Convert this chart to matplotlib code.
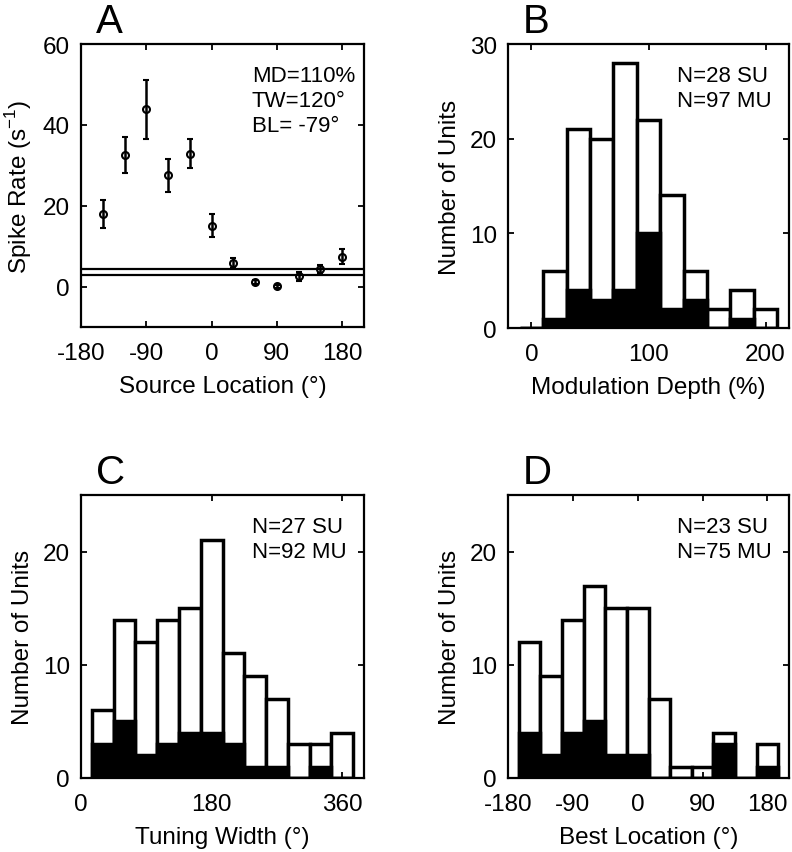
import numpy as np
import matplotlib.pyplot as plt

plt.rcParams['font.family'] = ['Liberation Sans', 'DejaVu Sans']
plt.rcParams['font.size'] = 17.5
plt.rcParams['axes.unicode_minus'] = False
plt.rcParams['mathtext.fontset'] = 'custom'
plt.rcParams['mathtext.rm'] = 'Liberation Sans'

# panel A: spike rate vs source location
loc = [-150, -120, -90, -60, -30, 0, 30, 60, 90, 120, 150, 180]
rate = [18, 32.5, 43.8, 27.5, 32.9, 15.1, 5.8, 1.1, 0.1, 2.6, 4.4, 7.4]
rate_err = [3.5, 4.5, 7.2, 4.1, 3.5, 2.9, 1.3, 0.5, 0.4, 1.1, 1.0, 1.9]
spont = [4.3, 2.8]

# panel B: modulation depth
md_bins = [0, 20, 40, 60, 80, 100, 120, 140, 160, 180, 200]
md_all = [0, 6, 21, 20, 28, 22, 14, 6, 2, 4, 2]
md_su = [0, 1, 4, 3, 4, 10, 2, 3, 0, 1, 0]

# panel C: tuning width
tw_bins = [30, 60, 90, 120, 150, 180, 210, 240, 270, 300, 330, 360]
tw_all = [6, 14, 12, 14, 15, 21, 11, 9, 7, 3, 3, 4]
tw_su = [3, 5, 2, 3, 4, 4, 3, 1, 1, 0, 1, 0]

# panel D: best location
bl_bins = [-150, -120, -90, -60, -30, 0, 30, 60, 90, 120, 150, 180]
bl_all = [12, 9, 14, 17, 15, 15, 7, 1, 1, 4, 0, 3]
bl_su = [4, 2, 4, 5, 2, 2, 0, 0, 0, 3, 0, 1]

W, H = 792, 853
fig = plt.figure(figsize=(W / 100, H / 100), dpi=100)


def make_ax(l, r, t, b, letter):
    ax = fig.add_axes([l / W, 1 - b / H, (r - l) / W, (b - t) / H])
    for s in ax.spines.values():
        s.set_linewidth(1.6)
    ax.tick_params(direction='in', top=True, right=True, length=4, width=1.3)
    ax.tick_params(axis='x', pad=11)
    ax.tick_params(axis='y', pad=8)
    fig.text((l + 15) / W, 1 - 33 / H - t / H + 45 / H, letter, fontsize=29,
             ha='left', va='baseline')
    return ax


def hist_panel(ax, bins, allv, su, width):
    ax.bar(bins, allv, width=width, color='white', edgecolor='black', linewidth=2.5)
    ax.bar(bins, su, width=width, color='black', edgecolor='black', linewidth=2.5)


def note(ax, s):
    ax.text(0.603, 0.925, s, transform=ax.transAxes, fontsize=16,
            va='top', ha='left', linespacing=1.25)


# A
ax = make_ax(81, 364, 45, 328, 'A')
for v in spont:
    ax.axhline(v, color='black', lw=1.6)
ax.errorbar(loc, rate, yerr=rate_err, fmt='o', mfc='none', mec='black', mew=1.5,
            ms=5, ecolor='black', elinewidth=1.8, capsize=2.5, capthick=1.8)
ax.set_xlim(-180, 210)
ax.set_ylim(-10, 60)
ax.set_xticks([-180, -90, 0, 90, 180])
ax.set_yticks([0, 20, 40, 60])
ax.set_xlabel('Source Location (°)', labelpad=8)
ax.set_ylabel('Spike Rate (s$^{-1}$)', labelpad=6)
note(ax, 'MD=110%\nTW=120°\nBL= -79°')

# B
ax = make_ax(508, 789, 45, 329, 'B')
hist_panel(ax, md_bins, md_all, md_su, 20)
ax.set_xlim(-20, 220)
ax.set_ylim(0, 30)
ax.set_xticks([0, 100, 200])
ax.set_yticks([0, 10, 20, 30])
ax.set_xlabel('Modulation Depth (%)', labelpad=8)
ax.set_ylabel('Number of Units', labelpad=6)
note(ax, 'N=28 SU\nN=97 MU')

# C
ax = make_ax(81, 364, 496, 779, 'C')
hist_panel(ax, tw_bins, tw_all, tw_su, 30)
ax.set_xlim(0, 390)
ax.set_ylim(0, 25)
ax.set_xticks([0, 180, 360])
ax.set_yticks([0, 10, 20])
ax.set_xlabel('Tuning Width (°)', labelpad=8)
ax.set_ylabel('Number of Units', labelpad=6)
note(ax, 'N=27 SU\nN=92 MU')

# D
ax = make_ax(508, 789, 496, 779, 'D')
hist_panel(ax, bl_bins, bl_all, bl_su, 30)
ax.set_xlim(-180, 210)
ax.set_ylim(0, 25)
ax.set_xticks([-180, -90, 0, 90, 180])
ax.set_yticks([0, 10, 20])
ax.set_xlabel('Best Location (°)', labelpad=8)
ax.set_ylabel('Number of Units', labelpad=6)
note(ax, 'N=23 SU\nN=75 MU')

fig.savefig('out.png', dpi=100)
